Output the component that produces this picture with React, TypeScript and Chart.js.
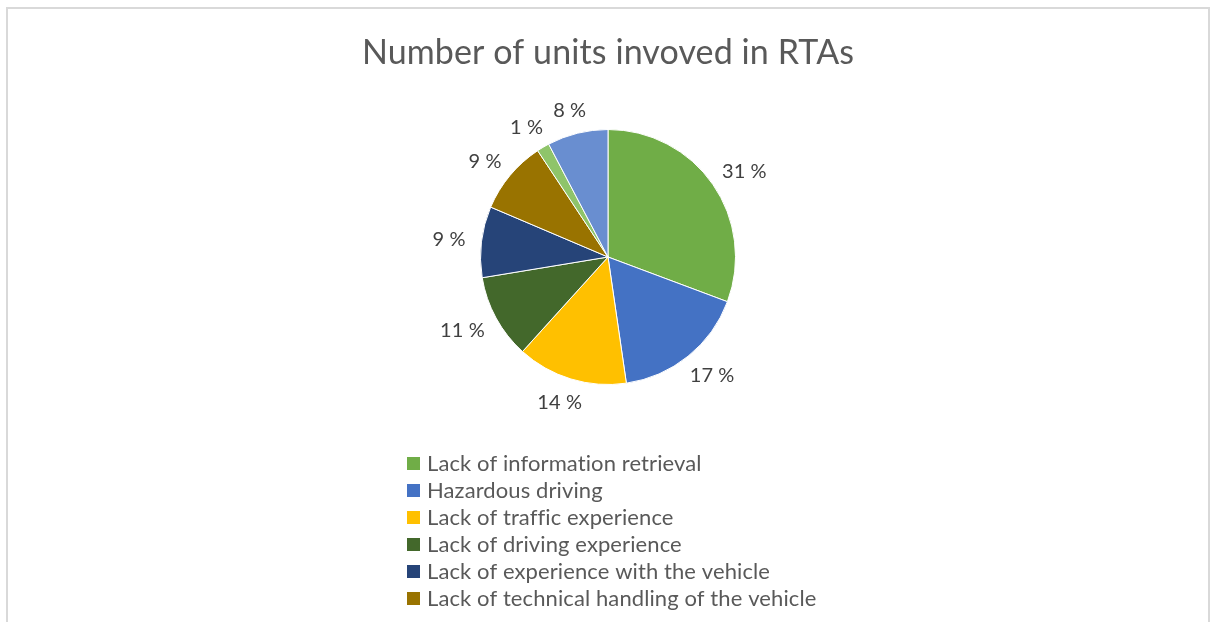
import React, { useEffect, useRef } from "react";
import { Chart, registerables } from "chart.js";

Chart.register(...registerables);

const TITLE = "Number of units invoved in RTAs";
const categories = [
  "Lack of information retrieval",
  "Hazardous driving",
  "Lack of traffic experience",
  "Lack of driving experience",
  "Lack of experience with the vehicle",
  "Lack of technical handling of the vehicle",
  "Other",
  "Unknown",
];
// slice sizes (percent of the whole)
const shares = [30.7, 17.0, 14.0, 10.7, 9.0, 9.3, 1.6, 7.7];
// percentage labels as printed next to the slices
const percentLabels = ["31 %", "17 %", "14 %", "11 %", "9 %", "9 %", "1 %", "8 %"];
const colors = [
  "#70AD47",
  "#4472C4",
  "#FFC000",
  "#43682B",
  "#264478",
  "#997300",
  "#8FC46A",
  "#698ED0",
];

const FONT = "Lato, 'Open Sans', sans-serif";

const overlay = {
  id: "overlay",
  afterDatasetsDraw(chart: any) {
    const ctx = chart.ctx as any;
    ctx.save();
    try {
      ctx.letterSpacing = "0.1px";
    } catch (e) {}
    // title
    ctx.fillStyle = "#595959";
    ctx.font = `34px ${FONT}`;
    ctx.textAlign = "center";
    ctx.textBaseline = "middle";
    ctx.fillText(TITLE, 600, 44);

    // data labels
    const meta = chart.getDatasetMeta(0);
    ctx.font = `20px ${FONT}`;
    ctx.fillStyle = "#404040";
    meta.data.forEach((arc: any, i: number) => {
      const p = arc.getProps(["x", "y", "startAngle", "endAngle", "outerRadius"], true);
      const mid = (p.startAngle + p.endAngle) / 2;
      const dx = Math.cos(mid);
      const dy = Math.sin(mid);
      const text = percentLabels[i];
      const w = ctx.measureText(text).width;
      const h = 16;
      const d = p.outerRadius + 16;
      const cx = p.x + dx * d + dx * (w / 2);
      const cy = p.y + dy * d + dy * (h / 2);
      ctx.fillText(text, cx, cy + 1);
    });

    // legend (only the rows that fit in the visible frame)
    ctx.font = `22px ${FONT}`;
    ctx.textAlign = "left";
    categories.forEach((c, i) => {
      const y = 454 + i * 27;
      if (y > 600) return;
      ctx.fillStyle = colors[i];
      ctx.fillRect(399, y - 6, 13, 13);
      ctx.fillStyle = "#595959";
      ctx.fillText(c, 419, y + 1);
    });
    ctx.restore();
  },
};

export default function App() {
  const ref = useRef<HTMLCanvasElement | null>(null);
  useEffect(() => {
    if (!ref.current) return;
    const chart = new Chart(ref.current, {
      type: "pie",
      data: {
        labels: categories,
        datasets: [
          {
            data: shares,
            backgroundColor: colors,
            borderColor: "#ffffff",
            borderWidth: 1,
          },
        ],
      },
      options: {
        responsive: false,
        animation: false,
        layout: { padding: { left: 472, right: 472, top: 120, bottom: 324 } },
        plugins: {
          legend: { display: false },
          title: { display: false },
          tooltip: { enabled: false },
        },
      },
      plugins: [overlay],
    });
    return () => chart.destroy();
  }, []);
  return (
    <div
      style={{
        position: "absolute",
        left: 0,
        top: 0,
        width: 1210,
        height: 622,
        overflow: "hidden",
        background: "#fff",
      }}
    >
      <div
        style={{
          position: "absolute",
          left: 6,
          top: 7,
          width: 1200,
          height: 700,
          border: "2px solid #D9D9D9",
          background: "#fff",
        }}
      >
        <canvas ref={ref} width={1200} height={700} style={{ display: "block" }} />
      </div>
    </div>
  );
}
